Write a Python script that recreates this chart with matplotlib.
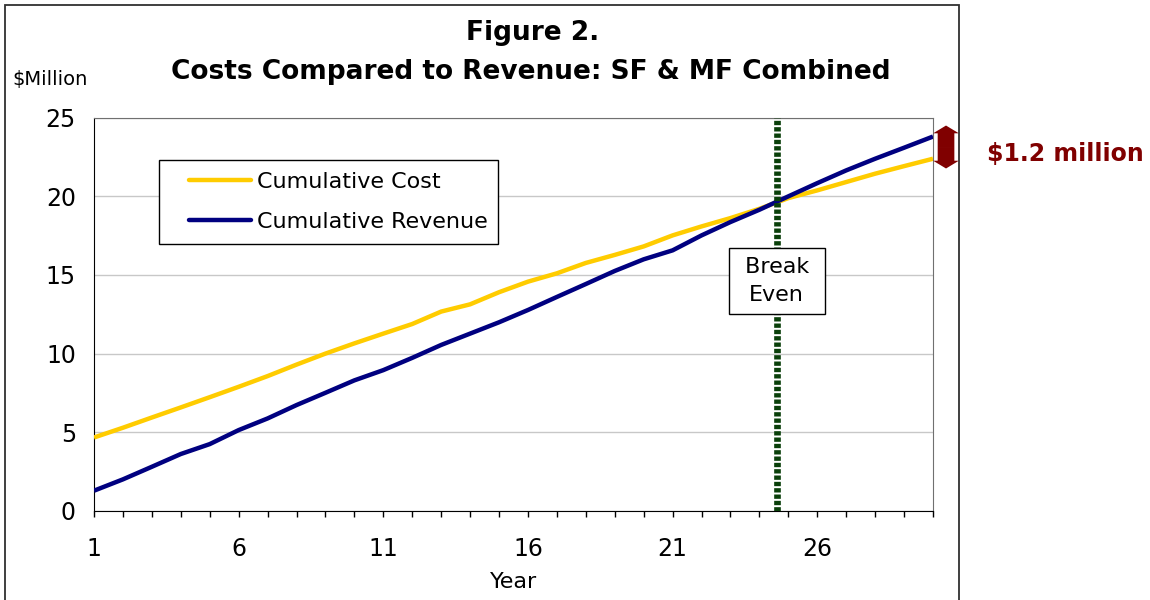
import matplotlib
matplotlib.use("Agg")
import matplotlib.pyplot as plt
from matplotlib.patches import Rectangle, FancyArrowPatch
from matplotlib.legend_handler import HandlerLine2D

# ---- data ----
years = list(range(1, 31))
cumulative_cost = [4.67, 5.29, 5.94, 6.58, 7.23, 7.89, 8.57, 9.3, 10.0, 10.65,
                   11.27, 11.88, 12.67, 13.13, 13.9, 14.57, 15.1, 15.76, 16.27, 16.81,
                   17.51, 18.08, 18.61, 19.2, 19.88, 20.37, 20.9, 21.43, 21.91, 22.38]
cumulative_revenue = [1.29, 2.01, 2.81, 3.62, 4.25, 5.14, 5.88, 6.73, 7.51, 8.3,
                      8.95, 9.73, 10.55, 11.27, 11.99, 12.77, 13.6, 14.42, 15.25, 15.99,
                      16.56, 17.51, 18.36, 19.14, 19.99, 20.83, 21.64, 22.38, 23.08, 23.79]
break_even_year = 24.6
xtick_labels = {1: "1", 6: "6", 11: "11", 16: "16", 21: "21", 26: "26"}
yticks = [0, 5, 10, 15, 20, 25]
gap_label = "$1.2 million"

COST_C = "#FFCC00"
REV_C = "#000080"
RED = "#800000"
GREEN = "#0a400a"

plt.rcParams['font.family'] = ['DejaVu Sans']

fig = plt.figure(figsize=(11.5, 6), dpi=100)
ax = fig.add_axes([94 / 1150, 89 / 600, 839 / 1150, 393.5 / 600])

# outer frame
fig.patches.append(Rectangle((5 / 1150, -0.1), 954 / 1150, 1.1 - 5 / 600,
                             transform=fig.transFigure, fill=False,
                             edgecolor="#303030", linewidth=1.3))

ax.plot(years, cumulative_cost, color=COST_C, lw=3.2, label="Cumulative Cost",
        solid_capstyle="butt", zorder=3)
ax.plot(years, cumulative_revenue, color=REV_C, lw=3.2, label="Cumulative Revenue",
        solid_capstyle="butt", zorder=4)

ax.axvline(break_even_year, color=GREEN, lw=4.8, dashes=(0.65, 0.3), zorder=5)

ax.set_xlim(1, 30)
ax.set_ylim(0, 25)
ax.set_xticks(years)
ax.set_xticklabels([xtick_labels.get(y, "") for y in years])
ax.set_yticks(yticks)
ax.set_yticklabels([str(v) for v in yticks])
ax.tick_params(axis="x", direction="out", length=4.5, width=1, pad=14,
               labelsize=17, color="black")
ax.tick_params(axis="y", length=0, pad=13, labelsize=17)
ax.yaxis.grid(True, color="#c8c8c8", lw=1)
ax.set_axisbelow(True)
for s in ("top", "right"):
    ax.spines[s].set_color("#707070")
for s in ("left", "bottom"):
    ax.spines[s].set_color("black")
ax.set_xlabel("Year", fontsize=16, labelpad=8)

leg = ax.legend(loc="upper left", bbox_to_anchor=(0.0775, 0.892, 0.404, 0.0),
                mode="expand", fontsize=16, frameon=True, fancybox=False,
                edgecolor="black", framealpha=1, borderpad=0.55,
                handlelength=3.6, handletextpad=0.25, labelspacing=0.88,
                borderaxespad=0,
                handler_map={plt.Line2D: HandlerLine2D(xpad=0.8)})
leg.get_frame().set_linewidth(1)
for h in leg.get_lines():
    h.set_linewidth(3.2)
    h.set_solid_capstyle("round")

ax.text(break_even_year, 14.6, " Break \nEven", ha="center", va="center",
        fontsize=16, linespacing=1.5, zorder=6,
        bbox=dict(boxstyle="square,pad=0.4", facecolor="white",
                  edgecolor="black", linewidth=1))

# gap arrow at final year (double-headed block arrow)
x_arrow = years[-1] + 0.45
y_top = cumulative_revenue[-1] + 0.7
y_bot = cumulative_cost[-1] - 0.62
y_mid = (y_top + y_bot) / 2
for y_end in (y_top, y_bot):
    arr = FancyArrowPatch((x_arrow, y_mid), (x_arrow, y_end),
                          arrowstyle="simple,head_length=5.6,head_width=18.5,tail_width=12",
                          mutation_scale=1, shrinkA=0, shrinkB=0,
                          facecolor=RED, edgecolor="none", lw=0,
                          clip_on=False, zorder=7)
    ax.add_patch(arr)
ax.text(x_arrow + 1.42, y_mid - 0.42, gap_label, ha="left", va="center",
        fontsize=17, fontweight="bold", color=RED, clip_on=False)

fig.text(533 / 1150, 1 - 33 / 600, "Figure 2.", ha="center", va="center",
         fontsize=19, fontweight="bold")
fig.text(531 / 1150, 1 - 72 / 600, "Costs Compared to Revenue: SF & MF Combined",
         ha="center", va="center", fontsize=19, fontweight="bold")
fig.text(12 / 1150, 1 - 80 / 600, "$Million", ha="left", va="center", fontsize=14)

fig.savefig("out.png", dpi=100)
